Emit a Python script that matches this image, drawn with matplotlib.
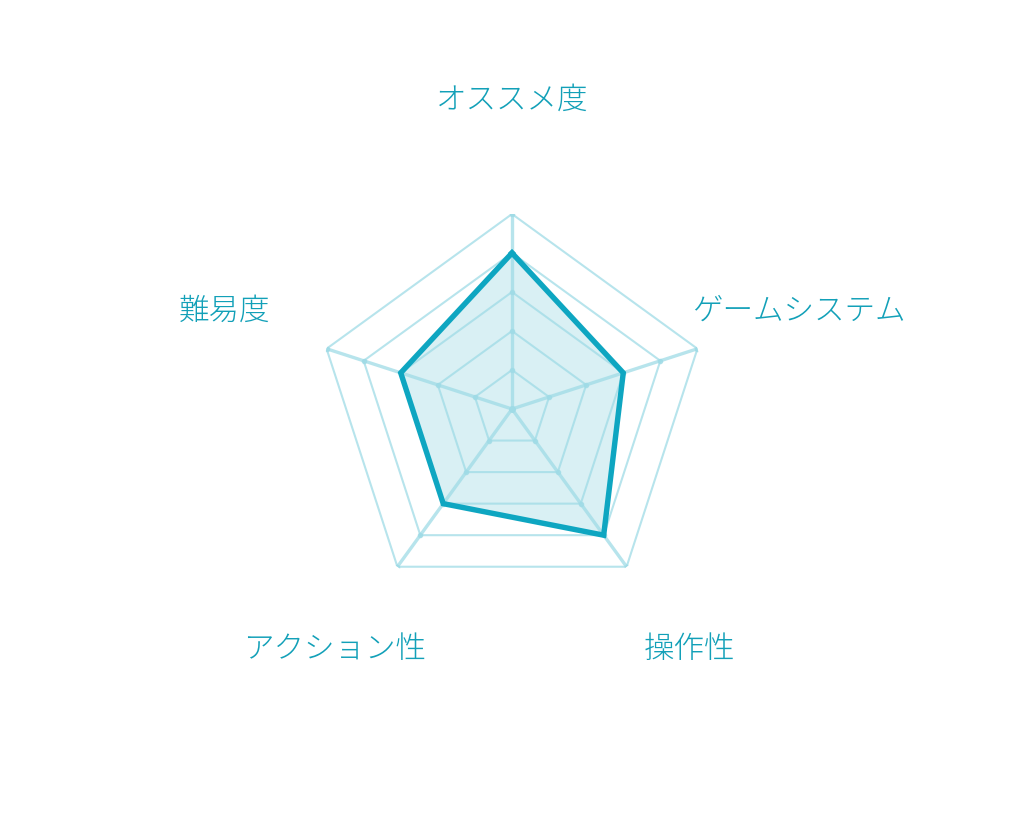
import numpy as np
import matplotlib
matplotlib.use("Agg")
import matplotlib.pyplot as plt
from matplotlib.transforms import offset_copy

plt.rcParams['font.family'] = ['Noto Sans CJK JP', 'DejaVu Sans']

# data
labels = ['オススメ度', 'ゲームシステム', '操作性', 'アクション性', '難易度']
values = [4, 3, 4, 3, 3]
levels = [1, 2, 3, 4, 5]
max_level = 5

# colours
line_col = '#0ea6c1'
fill_col = '#d9f0f4'
grid_col = '#9fdbe6'
text_col = '#12a0b8'

n = len(labels)
theta = np.arange(n) * 2 * np.pi / n
theta_closed = np.append(theta, theta[0])

fig = plt.figure(figsize=(10.24, 8.2), dpi=100)
ax = fig.add_axes([0.5 - 0.1904, 0.5 - 0.2378, 0.3808, 0.4756], projection='polar')
ax.set_theta_offset(np.pi / 2)
ax.set_theta_direction(-1)
ax.set_ylim(0, max_level)
ax.axis('off')

# data fill
vals_closed = np.append(values, values[0])
ax.fill(theta_closed, vals_closed, color=fill_col, zorder=1)

# rings
for lv in levels:
    r = np.full(n + 1, lv)
    ax.plot(theta_closed, r, color=grid_col, lw=1.5, alpha=0.75, zorder=2)
    ax.plot(theta, r[:-1], 'o', ms=3, color=grid_col, alpha=0.75, zorder=2)

# spokes
for t in theta:
    ax.plot([t, t], [0, max_level], color=grid_col, lw=2.4, alpha=0.75, zorder=2)
ax.plot([0], [0], 'o', ms=4, color=grid_col, zorder=2)

# data line
ax.plot(theta_closed, vals_closed, color=line_col, lw=3.9, solid_joinstyle='miter', zorder=3)

# axis labels (angle in degrees clockwise from top, radius in data units)
label_pos = [(0, 8.05), (70.3, 7.82), (142.9, 7.56), (217.1, 7.56), (289.7, 7.82)]
tr = offset_copy(ax.transData, fig=fig, y=-3.5, units='dots')
for lab, (a, lr) in zip(labels, label_pos):
    ax.text(np.deg2rad(a), lr, lab, ha='center', va='center', fontsize=22,
            fontweight='light', color=text_col, clip_on=False, transform=tr)

fig.savefig('out.png', dpi=100, facecolor='white')
